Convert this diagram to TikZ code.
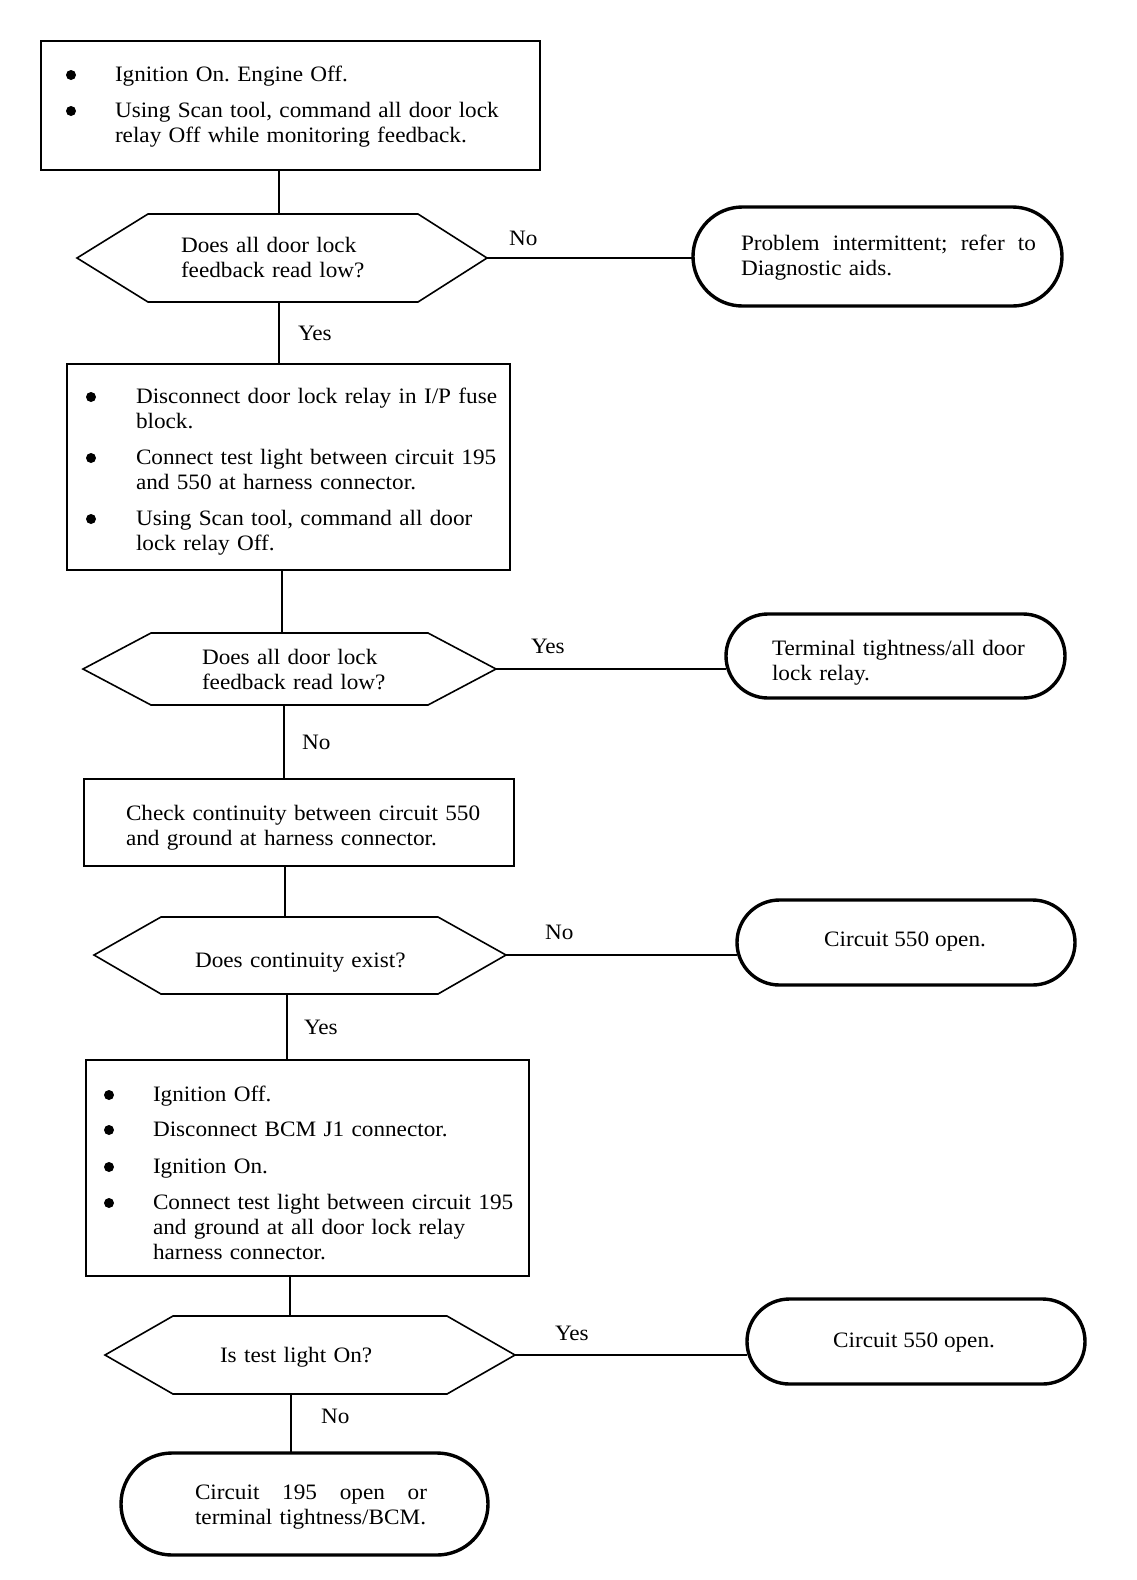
\documentclass[tikz,border=0pt]{standalone}
\usepackage{fontspec}
\setmainfont[FakeStretch=1.055]{Liberation Serif}
\usetikzlibrary{shapes.misc}
\frenchspacing
\begin{document}
\begin{tikzpicture}[x=0.5pt,y=-0.5pt,
  every node/.style={font=\fontsize{11}{12.5}\selectfont, inner sep=0pt, outer sep=0pt},
  stepbox/.style={draw, line width=1.3pt, rectangle},
  term/.style={draw, line width=1.7pt, rounded rectangle},
  hexline/.style={line width=0.8pt, line join=miter},
  conn/.style={line width=0.7pt},
  txt/.style={anchor=base west, align=left, text width=#1},
  txt/.default=240pt,
  bul/.style={circle, fill=black, minimum size=5pt},
  lbl/.style={anchor=base west}
]
\useasboundingbox (0,0) rectangle (1136,1580);

% ---------- boxes ----------
\node[stepbox, minimum width=249.5pt, minimum height=64.5pt] (b1) at (290.5,105.5) {};
\node[stepbox, minimum width=221.5pt, minimum height=103pt] (b2) at (288.5,467) {};
\node[stepbox, minimum width=215pt, minimum height=43.5pt] (b3) at (299,822.5) {};
\node[stepbox, minimum width=221.5pt, minimum height=108pt] (b4) at (307.5,1168) {};

% ---------- terminals ----------
\node[term, minimum width=184.5pt, minimum height=49.5pt] (t1) at (877.5,256.5) {};
\node[term, minimum width=169.5pt, minimum height=42pt] (t2) at (895.5,656) {};
\node[term, minimum width=169pt, minimum height=42.5pt] (t3) at (906,942.5) {};
\node[term, minimum width=169pt, minimum height=42.5pt] (t4) at (916,1341.5) {};
\node[term, minimum width=183.5pt, minimum height=51pt] (t5) at (304.5,1504) {};

% ---------- hexagon decisions ----------
\coordinate (d1l) at (77,258);  \coordinate (d1r) at (487,258);
\coordinate (d1t) at (279,214); \coordinate (d1b) at (279,302);
\draw[hexline] (d1l) -- (148,214) -- (418,214) -- (d1r) -- (418,302) -- (148,302) -- cycle;

\coordinate (d2l) at (83,669);  \coordinate (d2r) at (496,669);
\coordinate (d2t) at (282,633); \coordinate (d2b) at (284,705);
\draw[hexline] (d2l) -- (151,633) -- (428,633) -- (d2r) -- (428,705) -- (151,705) -- cycle;

\coordinate (d3l) at (94,955);  \coordinate (d3r) at (506,955);
\coordinate (d3t) at (285,917); \coordinate (d3b) at (287,994);
\draw[hexline] (d3l) -- (161,917) -- (438,917) -- (d3r) -- (438,994) -- (161,994) -- cycle;

\coordinate (d4l) at (105,1355); \coordinate (d4r) at (515,1355);
\coordinate (d4t) at (290,1316); \coordinate (d4b) at (291,1394);
\draw[hexline] (d4l) -- (173,1316) -- (447,1316) -- (d4r) -- (447,1394) -- (173,1394) -- cycle;

% ---------- connectors ----------
\draw[conn] (b1.south -| d1t) -- (d1t);
\draw[conn] (d1b) -- (b2.north -| d1b);
\draw[conn] (d1r) -- (t1.west |- d1r);
\draw[conn] (b2.south -| d2t) -- (d2t);
\draw[conn] (d2b) -- (b3.north -| d2b);
\draw[conn] (d2r) -- (t2.west |- d2r);
\draw[conn] (b3.south -| d3t) -- (d3t);
\draw[conn] (d3b) -- (b4.north -| d3b);
\draw[conn] (d3r) -- (t3.west |- d3r);
\draw[conn] (b4.south -| d4t) -- (d4t);
\draw[conn] (d4b) -- (t5.north -| d4b);
\draw[conn] (d4r) -- (t4.west |- d4r);

% ---------- box 1 text ----------
\node[bul] (b1p1) at (71,75) {};
\node[txt] (b1i1) at (115,81) {Ignition On. Engine Off.};
\node[bul] (b1p2) at (71,111) {};
\node[txt] (b1i2) at (115,117) {Using Scan tool, command all door lock\\relay Off while monitoring feedback.};

% ---------- decision 1 ----------
\node[txt] (d1txt) at (181,252) {Does all door lock\\feedback read low?};
\node[lbl] (l1) at (509,245) {No};
\node[txt=160pt] (t1txt) at (741,250) {\makebox[147.5pt][l]{Problem\hfill intermittent;\hfill refer\hfill to}\\Diagnostic aids.};
\node[lbl] (l2) at (298,340) {Yes};

% ---------- box 2 text ----------
\node[bul] (b2p1) at (91,397) {};
\node[txt] (b2i1) at (136,403) {Disconnect door lock relay in I/P fuse\\block.};
\node[bul] (b2p2) at (91,458) {};
\node[txt] (b2i2) at (136,464) {Connect test light between circuit 195\\and 550 at harness connector.};
\node[bul] (b2p3) at (91,519) {};
\node[txt] (b2i3) at (136,525) {Using Scan tool, command all door\\lock relay Off.};

% ---------- decision 2 ----------
\node[txt] (d2txt) at (202,664) {Does all door lock\\feedback read low?};
\node[lbl] (l3) at (531,653) {Yes};
\node[txt=160pt] (t2txt) at (772,655) {Terminal tightness/all door\\lock relay.};
\node[lbl] (l4) at (302,749) {No};

% ---------- box 3 text ----------
\node[txt] (b3txt) at (126,820) {Check continuity between circuit 550\\and ground at harness connector.};

% ---------- decision 3 ----------
\node[txt] (d3txt) at (195,967) {Does continuity exist?};
\node[lbl] (l5) at (545,939) {No};
\node[anchor=base] (t3txt) at (905,946) {Circuit 550 open.};
\node[lbl] (l6) at (304,1034) {Yes};

% ---------- box 4 text ----------
\node[bul] (b4p1) at (109,1095) {};
\node[txt] (b4i1) at (153,1101) {Ignition Off.};
\node[bul] (b4p2) at (109,1130) {};
\node[txt] (b4i2) at (153,1136) {Disconnect BCM J1 connector.};
\node[bul] (b4p3) at (109,1167) {};
\node[txt] (b4i3) at (153,1173) {Ignition On.};
\node[bul] (b4p4) at (109,1203) {};
\node[txt] (b4i4) at (153,1209) {Connect test light between circuit 195\\and ground at all door lock relay\\harness connector.};

% ---------- decision 4 ----------
\node[txt] (d4txt) at (220,1362) {Is test light On?};
\node[lbl] (l7) at (555,1340) {Yes};
\node[anchor=base] (t4txt) at (914,1347) {Circuit 550 open.};
\node[lbl] (l8) at (321,1423) {No};

% ---------- terminal 5 ----------
\node[txt=130pt] (t5txt) at (195,1499) {\makebox[116pt][l]{Circuit\hfill 195\hfill open\hfill or}\\terminal tightness/BCM.};
\end{tikzpicture}
\end{document}
